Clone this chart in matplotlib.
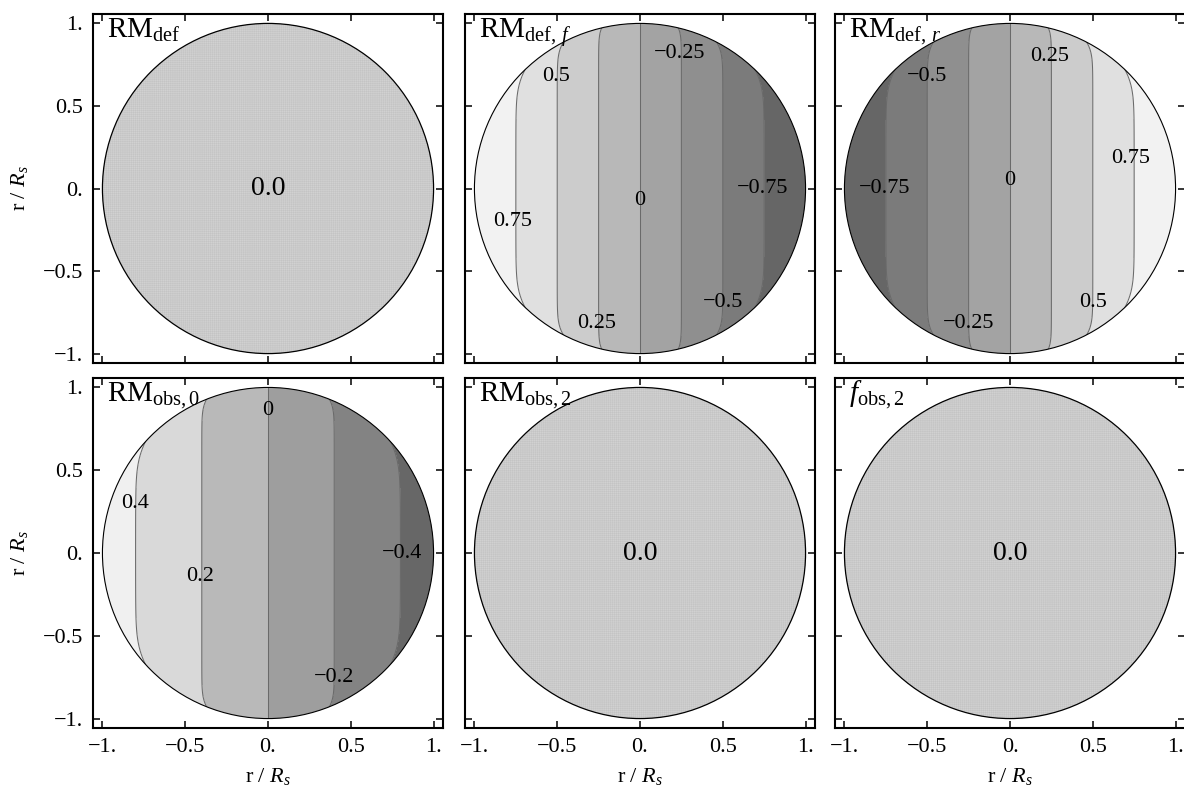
import numpy as np
import matplotlib
matplotlib.use('Agg')
import matplotlib.pyplot as plt
from matplotlib.patches import Circle

plt.rcParams['font.family'] = ['Liberation Serif', 'DejaVu Serif']
plt.rcParams['mathtext.fontset'] = 'custom'
plt.rcParams['mathtext.rm'] = 'Liberation Serif'
plt.rcParams['mathtext.it'] = 'Liberation Serif:italic'
plt.rcParams['hatch.linewidth'] = 0.35

# ----- Data -----
titles = [r'$\mathrm{RM}_{\mathrm{def}}$', r'$\mathrm{RM}_{\mathrm{def},\,f}$', r'$\mathrm{RM}_{\mathrm{def},\,r}$',
          r'$\mathrm{RM}_{\mathrm{obs,0}}$', r'$\mathrm{RM}_{\mathrm{obs,2}}$', r'$f_{\mathrm{obs,2}}$']
tick_vals = [-1.0, -0.5, 0.0, 0.5, 1.0]
tick_text = ['\u22121.', '\u22120.5', '0.', '0.5', '1.']

# uniform panels (value shown at centre)
flat_value = '0.0'

# RM_def,f : contour levels and where each line crosses y = 0
f_levels = [0.75, 0.5, 0.25, 0.0, -0.25, -0.5, -0.75]
f_line_x = [-0.75, -0.5, -0.25, 0.0, 0.25, 0.5, 0.75]
f_shades = ['#f2f2f2', '#e0e0e0', '#cccccc', '#b8b8b8', '#a3a3a3', '#8f8f8f', '#7b7b7b', '#666666']  # left -> right
f_labels = ['0.5', '\u22120.25', '0', '\u22120.75', '0.75', '\u22120.5', '0.25']
f_label_xy = [(-0.51, 0.68), (0.24, 0.82), (0.0, -0.07), (0.74, 0.0), (-0.77, -0.2), (0.5, -0.69), (-0.26, -0.82)]

# RM_def,r
r_levels = [-0.75, -0.5, -0.25, 0.0, 0.25, 0.5, 0.75]
r_line_x = [-0.75, -0.5, -0.25, 0.0, 0.25, 0.5, 0.75]
r_shades = ['#666666', '#7b7b7b', '#8f8f8f', '#a3a3a3', '#b8b8b8', '#cccccc', '#e0e0e0', '#f2f2f2']
r_labels = ['0.25', '\u22120.5', '0.75', '0', '\u22120.75', '0.5', '\u22120.25']
r_label_xy = [(0.24, 0.8), (-0.5, 0.68), (0.73, 0.18), (0.0, 0.05), (-0.755, 0.0), (0.5, -0.69), (-0.25, -0.82)]

# RM_obs,0
o_levels = [0.4, 0.2, 0.0, -0.2, -0.4]
o_line_x = [-0.8, -0.4, 0.0, 0.4, 0.8]
o_shades = ['#f0f0f0', '#d9d9d9', '#b9b9b9', '#9e9e9e', '#838383', '#676767']
o_labels = ['0', '0.4', '0.2', '\u22120.4', '\u22120.2']
o_label_xy = [(0.0, 0.86), (-0.8, 0.3), (-0.41, -0.14), (0.81, 0.0), (0.4, -0.75)]

# ----- Figure -----
fig = plt.figure(figsize=(11.84, 7.98), dpi=100)
col_left = [93, 465, 835]
row_span = [(14, 363), (378, 728)]
lim = 1.057


def make_axes(col, row):
    x0 = col_left[col]
    y0, y1 = row_span[row]
    ax = fig.add_axes([x0 / 1184, 1 - y1 / 798, 350 / 1184, (y1 - y0) / 798])
    ax.set_xlim(-lim, lim)
    ax.set_ylim(-lim, lim)
    ax.set_xticks(tick_vals)
    ax.set_yticks(tick_vals)
    ax.set_xticklabels(tick_text if row == 1 else [])
    ax.set_yticklabels(tick_text if col == 0 else [])
    ax.tick_params(direction='in', top=True, right=True, length=5, width=1.1,
                   labelsize=16, pad=7)
    for sp in ax.spines.values():
        sp.set_linewidth(1.5)
    if col == 0:
        ax.set_ylabel(r'r / $R_s$', fontsize=16, labelpad=9)
    if row == 1:
        ax.set_xlabel(r'r / $R_s$', fontsize=16, labelpad=7)
    return ax


def flat_panel(ax, title):
    disk = Circle((0, 0), 1, facecolor='#c4c4c4', edgecolor='#d2d2d2', lw=0,
                  hatch='++++++++', zorder=2)
    ax.add_patch(disk)
    ax.add_patch(Circle((0, 0), 1, facecolor='none', edgecolor='black', lw=0.9, zorder=3))
    ax.text(0, 0, flat_value, ha='center', va='center', fontsize=20, zorder=4)
    ax.text(-0.97, 0.915, title, ha='left', va='baseline', fontsize=21, zorder=5)


n = 700
gx = np.linspace(-lim, lim, n)
X, Y = np.meshgrid(gx, gx)
R = np.sqrt(X ** 2 + Y ** 2)
limb_bend = 0.08  # contour lines lean toward the centre near the limb
X_eff = X * (1 + limb_bend * np.exp(-np.clip(1 - R, 0, None) / 0.035))


def contour_panel(ax, title, levels, line_x, shades, labels, label_xy):
    slope, icpt = np.polyfit(line_x, levels, 1)
    Z = slope * X_eff + icpt
    lv = sorted(levels)
    bounds = [-5] + lv + [5]
    cols = shades if slope > 0 else shades[::-1]
    cf = ax.contourf(X, Y, Z, levels=bounds, colors=cols, zorder=1)
    cf.set_clip_path(Circle((0, 0), 1, transform=ax.transData))
    cl = ax.contour(X, Y, Z, levels=lv, colors='#6a6a6a', linewidths=0.75,
                    linestyles='solid', zorder=2)
    cl.set_clip_path(Circle((0, 0), 1, transform=ax.transData))
    ax.add_patch(Circle((0, 0), 1, facecolor='none', edgecolor='black', lw=0.8, zorder=3))
    for s, (lx, ly) in zip(labels, label_xy):
        ax.text(lx, ly, s, ha='center', va='center', fontsize=16, zorder=4)
    ax.text(-0.97, 0.915, title, ha='left', va='baseline', fontsize=21, zorder=5)


ax = make_axes(0, 0)
flat_panel(ax, titles[0])
ax = make_axes(1, 0)
contour_panel(ax, titles[1], f_levels, f_line_x, f_shades, f_labels, f_label_xy)
ax = make_axes(2, 0)
contour_panel(ax, titles[2], r_levels, r_line_x, r_shades, r_labels, r_label_xy)
ax = make_axes(0, 1)
contour_panel(ax, titles[3], o_levels, o_line_x, o_shades, o_labels, o_label_xy)
ax = make_axes(1, 1)
flat_panel(ax, titles[4])
ax = make_axes(2, 1)
flat_panel(ax, titles[5])

fig.savefig('out.png', dpi=100)
